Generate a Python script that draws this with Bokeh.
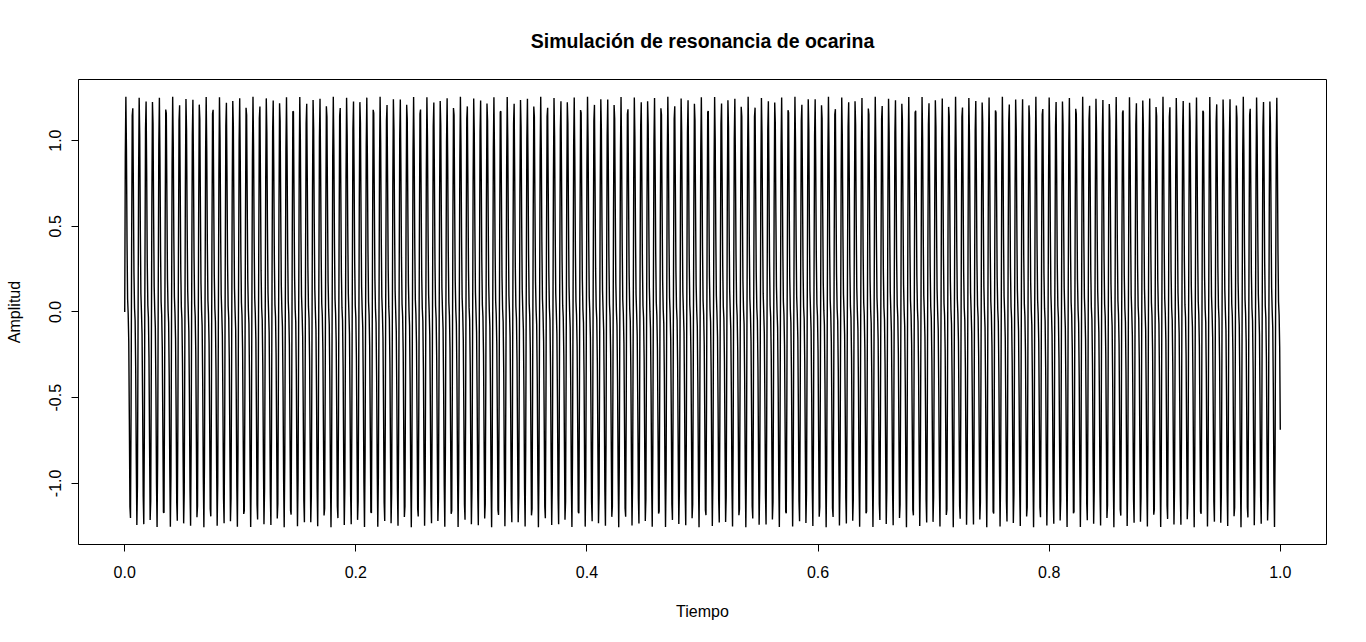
import numpy as np
from bokeh.plotting import figure
from bokeh.models import Range1d, FixedTicker, ColumnDataSource
from bokeh.embed import file_html
from bokeh.resources import INLINE

# ---- chart data / parameters ----
title_text = "Simulación de resonancia de ocarina"
x_label = "Tiempo"
y_label = "Amplitud"
sample_rate_hz = 2000          # samples per second
duration_s = 1.0               # signal length
fundamental_hz = 172.7         # ~172-173 peaks across one second
harmonic_numbers = [1, 2]
harmonic_amps = [1.0, 0.45]    # peak amplitude ~1.25
x_ticks = [0.0, 0.2, 0.4, 0.6, 0.8, 1.0]
x_tick_labels = ["0.0", "0.2", "0.4", "0.6", "0.8", "1.0"]
y_ticks = [-1.0, -0.5, 0.0, 0.5, 1.0]
y_tick_labels = ["-1.0", "-0.5", "0.0", "0.5", "1.0"]

# ---- sampled signal ----
t = np.arange(0, int(sample_rate_hz * duration_s) + 1) / sample_rate_hz
signal = np.zeros_like(t)
for n, a in zip(harmonic_numbers, harmonic_amps):
    signal = signal + a * np.sin(2 * np.pi * n * fundamental_hz * t)

src = ColumnDataSource(dict(t=t, y=signal))

# R-style 4% range extension
xspan = t.max() - t.min()
yspan = signal.max() - signal.min()
x_range = Range1d(t.min() - 0.04 * xspan, t.max() + 0.04 * xspan)
y_range = Range1d(signal.min() - 0.04 * yspan, signal.max() + 0.04 * yspan)

FONT = "Liberation Sans"

p = figure(width=1350, height=626, output_backend="svg", toolbar_location=None,
           x_range=x_range, y_range=y_range,
           min_border_left=78, min_border_right=24,
           min_border_top=78, min_border_bottom=82)

p.background_fill_color = "white"
p.border_fill_color = "white"
p.outline_line_color = "black"
p.outline_line_width = 1
p.grid.visible = False

p.title.text = title_text
p.title.text_font = FONT
p.title.text_font_size = "19.5px"
p.title.text_font_style = "bold"
p.title.align = "center"
p.title.text_color = "black"
p.title.standoff = 55

p.line("t", "y", source=src, line_color="black", line_width=1.4)

for ax in (p.xaxis[0], p.yaxis[0]):
    ax.axis_line_color = None
    ax.major_tick_out = 7
    ax.major_tick_in = 0
    ax.minor_tick_out = 0
    ax.minor_tick_in = 0
    ax.major_tick_line_color = "black"
    ax.major_label_text_font = FONT
    ax.major_label_text_font_size = "16px"
    ax.major_label_text_color = "black"
    ax.axis_label_text_font = FONT
    ax.axis_label_text_font_size = "16px"
    ax.axis_label_text_font_style = "normal"
    ax.axis_label_text_color = "black"

p.xaxis[0].ticker = FixedTicker(ticks=x_ticks)
p.xaxis[0].major_label_overrides = {v: s for v, s in zip(x_ticks, x_tick_labels)}
p.xaxis[0].axis_label = x_label
p.xaxis[0].major_label_standoff = 14
p.xaxis[0].axis_label_standoff = 22

p.yaxis[0].ticker = FixedTicker(ticks=y_ticks)
p.yaxis[0].major_label_overrides = {v: s for v, s in zip(y_ticks, y_tick_labels)}
p.yaxis[0].axis_label = y_label
p.yaxis[0].major_label_orientation = "vertical"
p.yaxis[0].major_label_standoff = 10
p.yaxis[0].axis_label_standoff = 24

open("out.html", "w").write(file_html(p, INLINE))
